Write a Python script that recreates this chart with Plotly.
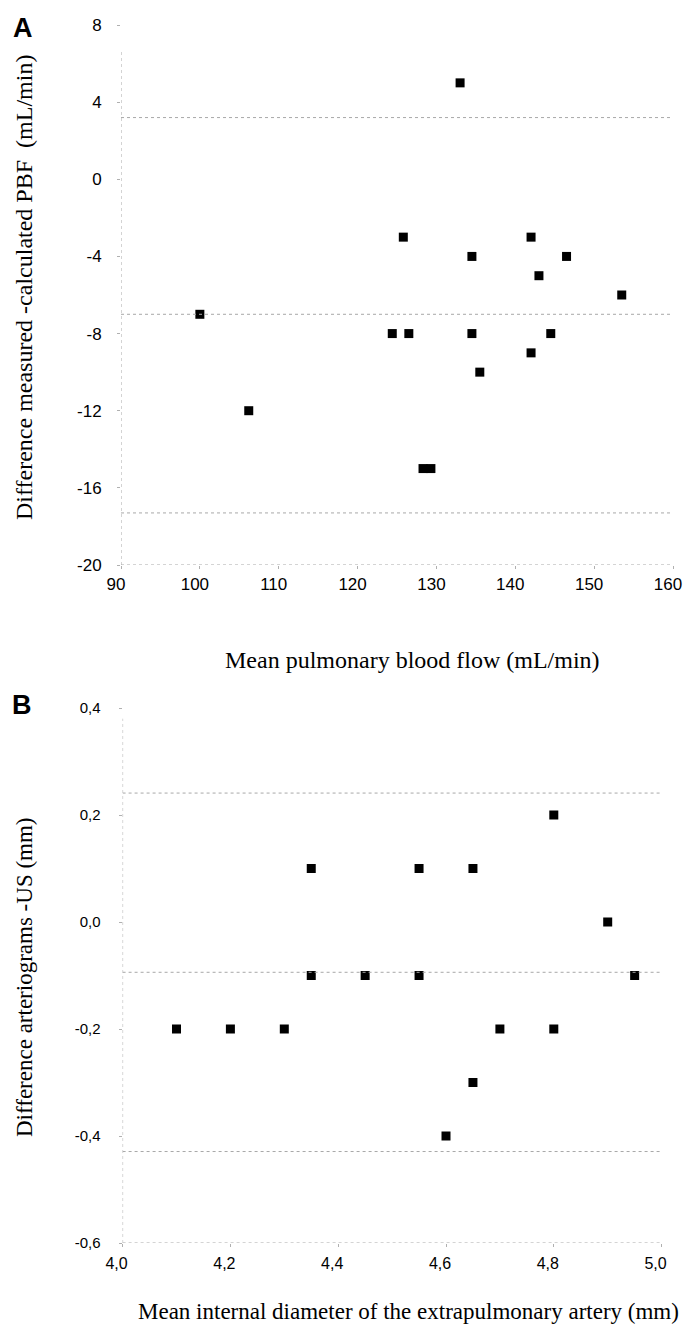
import plotly.graph_objects as go

# ---------------- Panel A data ----------------
a_x = [133.0, 125.8, 134.5, 142.0, 146.5, 143.0, 153.5, 100.0, 124.4, 126.5, 134.5, 144.5,
       142.0, 135.5, 106.2, 128.3, 129.3]
a_y = [5, -3, -4, -3, -4, -5, -6, -7, -8, -8, -8, -8, -9, -10, -12, -15, -15]
a_limits = [3.2, -7.0, -17.3]          # upper limit, mean difference, lower limit
a_xticks = [90, 100, 110, 120, 130, 140, 150, 160]
a_yticks = [8, 4, 0, -4, -8, -12, -16, -20]
a_yticklabels = ["8", "4", "0", "-4", "-8", "-12", "-16", "-20"]

# ---------------- Panel B data ----------------
b_x = [4.80, 4.35, 4.55, 4.65, 4.90, 4.35, 4.45, 4.55, 4.95, 4.10, 4.20, 4.30, 4.70, 4.80, 4.65, 4.60]
b_y = [0.2, 0.1, 0.1, 0.1, 0.0, -0.1, -0.1, -0.1, -0.1, -0.2, -0.2, -0.2, -0.2, -0.2, -0.3, -0.4]
b_limits = [0.241, -0.094, -0.429]
b_xticks = [4.0, 4.2, 4.4, 4.6, 4.8, 5.0]
b_xticklabels = ["4,0", "4,2", "4,4", "4,6", "4,8", "5,0"]
b_yticks = [0.4, 0.2, 0.0, -0.2, -0.4, -0.6]
b_yticklabels = ["0,4", "0,2", "0,0", "-0,2", "-0,4", "-0,6"]

W, H = 683, 1324
A_range_x = [90, 160]
A_range_y = [-20, 8]
B_range_x = [4.0, 5.0]
B_range_y = [-0.6, 0.4]

def px(xp):
    return xp / W

def py(yp):
    return 1 - yp / H

fig = go.Figure()
marker = dict(symbol="square", size=9, color="black")
fig.add_trace(go.Scatter(x=a_x, y=a_y, mode="markers", marker=marker, xaxis="x", yaxis="y",
                         showlegend=False))
fig.add_trace(go.Scatter(x=b_x, y=b_y, mode="markers", marker=marker, xaxis="x2", yaxis="y2",
                         showlegend=False))

dot = dict(color="#a8a8a8", width=1, dash="dot")
shapes = []
for v in a_limits:
    shapes.append(dict(type="line", xref="x", yref="y", x0=A_range_x[0], x1=A_range_x[1],
                       y0=v, y1=v, line=dot))
for v in b_limits:
    shapes.append(dict(type="line", xref="x2", yref="y2", x0=B_range_x[0], x1=B_range_x[1],
                       y0=v, y1=v, line=dot))
# dotted axis lines
shapes.append(dict(type="line", xref="x", yref="y", x0=A_range_x[0], x1=A_range_x[1],
                   y0=A_range_y[0], y1=A_range_y[0], line=dot))
shapes.append(dict(type="line", xref="x", yref="y", x0=A_range_x[0], x1=A_range_x[0],
                   y0=A_range_y[0], y1=6.6, line=dot))
shapes.append(dict(type="line", xref="x2", yref="y2", x0=B_range_x[0], x1=B_range_x[1],
                   y0=B_range_y[0], y1=B_range_y[0], line=dot))
shapes.append(dict(type="line", xref="x2", yref="y2", x0=B_range_x[0], x1=B_range_x[0],
                   y0=B_range_y[0], y1=0.38, line=dot))

sans = "Liberation Sans, Arial, sans-serif"
common = dict(showgrid=False, zeroline=False, showline=False, ticks="outside", ticklen=3,
              tickcolor="#b0b0b0", automargin=False, ticklabeloverflow="allow")

serif = "Liberation Serif, Times New Roman, serif"
annotations = [
    dict(text="<b>A</b>", x=px(23), y=py(28), xref="paper", yref="paper", showarrow=False,
         xanchor="center", yanchor="middle",
         font=dict(family=sans, size=27, color="black")),
    dict(text="<b>B</b>", x=px(22), y=py(705), xref="paper", yref="paper", showarrow=False,
         xanchor="center", yanchor="middle",
         font=dict(family=sans, size=27, color="black")),
    dict(text="Difference measured -calculated PBF  (mL/min)", x=px(24), y=py(288),
         xref="paper", yref="paper", showarrow=False, textangle=-90,
         xanchor="center", yanchor="middle",
         font=dict(family=serif, size=24, color="black")),
    dict(text="Mean pulmonary blood flow (mL/min)", x=px(412), y=py(660), xref="paper",
         yref="paper", showarrow=False, xanchor="center", yanchor="middle",
         font=dict(family=serif, size=24, color="black")),
    dict(text="Difference arteriograms -US (mm)", x=px(24), y=py(977), xref="paper",
         yref="paper", showarrow=False, textangle=-90, xanchor="center", yanchor="middle",
         font=dict(family=serif, size=23, color="black")),
    dict(text="Mean internal diameter of the extrapulmonary artery (mm)", x=px(408),
         y=py(1311), xref="paper", yref="paper", showarrow=False,
         xanchor="center", yanchor="middle",
         font=dict(family=serif, size=23, color="black")),
]

fig.update_layout(
    width=W, height=H,
    margin=dict(l=0, r=0, t=0, b=0, autoexpand=False),
    paper_bgcolor="white", plot_bgcolor="white",
    shapes=shapes, annotations=annotations,
    xaxis=dict(domain=[px(121), px(673)], range=A_range_x, tickvals=a_xticks,
               anchor="y", ticklabelstandoff=1, ticklabelshift=-5,
               tickfont=dict(family=sans, size=17, color="black"), **common),
    yaxis=dict(domain=[py(565), py(25)], range=A_range_y, tickvals=a_yticks,
               ticktext=a_yticklabels, anchor="x", ticklabelstandoff=12,
               tickfont=dict(family=sans, size=17, color="black"), **common),
    xaxis2=dict(domain=[px(122.6), px(661.6)], range=B_range_x, tickvals=b_xticks,
                ticktext=b_xticklabels, anchor="y2", ticklabelstandoff=3, ticklabelshift=-6,
                tickfont=dict(family=sans, size=16, color="black"), **common),
    yaxis2=dict(domain=[py(1243), py(708)], range=B_range_y, tickvals=b_yticks,
                ticktext=b_yticklabels, anchor="x2", ticklabelstandoff=15,
                tickfont=dict(family=sans, size=15, color="black"), **common),
)

fig.write_html("out.html", config={"displayModeBar": False},
               post_script="document.body.style.margin='0px';document.body.style.overflow='hidden';")
